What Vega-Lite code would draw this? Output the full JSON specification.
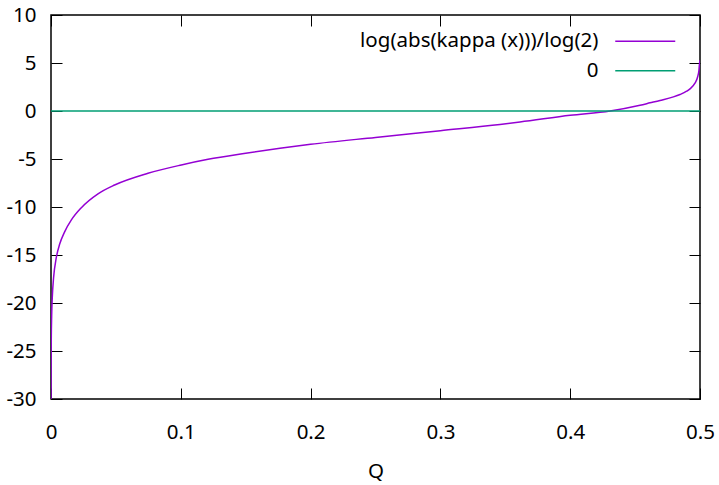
{
  "$schema": "https://vega.github.io/schema/vega-lite/v6.json",
  "width": 649,
  "height": 384,
  "autosize": {"type": "none"},
  "padding": {"left": 51, "top": 15, "right": 19, "bottom": 86},
  "background": "#ffffff",
  "config": {
    "font": "Noto Sans",
    "view": {"stroke": "#000000", "strokeWidth": 1.5},
    "axis": {
      "grid": false,
      "domain": false,
      "tickColor": "#000000",
      "tickSize": -11,
      "tickWidth": 1,
      "labelFont": "Noto Sans",
      "labelFontSize": 20.5,
      "labelColor": "#000000",
      "titleFont": "Noto Sans",
      "titleFontSize": 20.5,
      "titleFontWeight": "normal",
      "titleColor": "#000000"
    },
    "legend": {
      "orient": "none",
      "legendX": 584,
      "legendY": 16,
      "title": null,
      "symbolType": "M-10,0H10",
      "symbolSize": 36,
      "symbolStrokeWidth": 1.5,
      "symbolFillColor": "transparent",
      "labelAlign": "right",
      "labelOffset": -57,
      "labelLimit": 0,
      "labelFont": "Noto Sans",
      "labelFontSize": 20.5,
      "labelColor": "#000000",
      "rowPadding": 8.5,
      "padding": 0
    }
  },
  "datasets": {
    "curve": [
      {"Q": 0.00002, "v": -30.6, "s": "log(abs(kappa (x)))/log(2)"},
      {"Q": 0.00005, "v": -28.0, "s": "log(abs(kappa (x)))/log(2)"},
      {"Q": 0.0001, "v": -26.0, "s": "log(abs(kappa (x)))/log(2)"},
      {"Q": 0.0002, "v": -24.0, "s": "log(abs(kappa (x)))/log(2)"},
      {"Q": 0.0005, "v": -21.4, "s": "log(abs(kappa (x)))/log(2)"},
      {"Q": 0.001, "v": -19.4, "s": "log(abs(kappa (x)))/log(2)"},
      {"Q": 0.002, "v": -17.35, "s": "log(abs(kappa (x)))/log(2)"},
      {"Q": 0.0041, "v": -15.26, "s": "log(abs(kappa (x)))/log(2)"},
      {"Q": 0.0067, "v": -13.86, "s": "log(abs(kappa (x)))/log(2)"},
      {"Q": 0.0105, "v": -12.59, "s": "log(abs(kappa (x)))/log(2)"},
      {"Q": 0.0157, "v": -11.35, "s": "log(abs(kappa (x)))/log(2)"},
      {"Q": 0.0234, "v": -10.07, "s": "log(abs(kappa (x)))/log(2)"},
      {"Q": 0.0362, "v": -8.63, "s": "log(abs(kappa (x)))/log(2)"},
      {"Q": 0.049, "v": -7.71, "s": "log(abs(kappa (x)))/log(2)"},
      {"Q": 0.0747, "v": -6.49, "s": "log(abs(kappa (x)))/log(2)"},
      {"Q": 0.1004, "v": -5.62, "s": "log(abs(kappa (x)))/log(2)"},
      {"Q": 0.121, "v": -5.03, "s": "log(abs(kappa (x)))/log(2)"},
      {"Q": 0.15, "v": -4.4, "s": "log(abs(kappa (x)))/log(2)"},
      {"Q": 0.1764, "v": -3.88, "s": "log(abs(kappa (x)))/log(2)"},
      {"Q": 0.2, "v": -3.47, "s": "log(abs(kappa (x)))/log(2)"},
      {"Q": 0.25, "v": -2.75, "s": "log(abs(kappa (x)))/log(2)"},
      {"Q": 0.3, "v": -2.05, "s": "log(abs(kappa (x)))/log(2)"},
      {"Q": 0.3459, "v": -1.4, "s": "log(abs(kappa (x)))/log(2)"},
      {"Q": 0.3613, "v": -1.15, "s": "log(abs(kappa (x)))/log(2)"},
      {"Q": 0.4, "v": -0.45, "s": "log(abs(kappa (x)))/log(2)"},
      {"Q": 0.4307, "v": 0.0, "s": "log(abs(kappa (x)))/log(2)"},
      {"Q": 0.4538, "v": 0.6, "s": "log(abs(kappa (x)))/log(2)"},
      {"Q": 0.4615, "v": 0.85, "s": "log(abs(kappa (x)))/log(2)"},
      {"Q": 0.4692, "v": 1.1, "s": "log(abs(kappa (x)))/log(2)"},
      {"Q": 0.4795, "v": 1.47, "s": "log(abs(kappa (x)))/log(2)"},
      {"Q": 0.4846, "v": 1.72, "s": "log(abs(kappa (x)))/log(2)"},
      {"Q": 0.4897, "v": 2.06, "s": "log(abs(kappa (x)))/log(2)"},
      {"Q": 0.4923, "v": 2.31, "s": "log(abs(kappa (x)))/log(2)"},
      {"Q": 0.4961, "v": 2.9, "s": "log(abs(kappa (x)))/log(2)"},
      {"Q": 0.4982, "v": 3.57, "s": "log(abs(kappa (x)))/log(2)"},
      {"Q": 0.4992, "v": 4.27, "s": "log(abs(kappa (x)))/log(2)"},
      {"Q": 0.4996, "v": 4.9, "s": "log(abs(kappa (x)))/log(2)"},
      {"Q": 0.5, "v": 5.3, "s": "log(abs(kappa (x)))/log(2)"}
    ],
    "zero": [
      {"Q": 0, "v": 0, "s": "0"},
      {"Q": 0.5, "v": 0, "s": "0"}
    ]
  },
  "layer": [
    {
      "data": {"name": "curve"},
      "mark": {"type": "line", "strokeWidth": 1.5, "clip": true, "interpolate": "monotone"},
      "encoding": {
        "x": {
          "field": "Q", "type": "quantitative",
          "scale": {"domain": [0, 0.5], "nice": false, "zero": false},
          "axis": {"orient": "bottom", "values": [0, 0.1, 0.2, 0.3, 0.4, 0.5], "labelExpr": "'' + datum.value", "labelPadding": 34, "title": "Q", "titlePadding": 19, "labelFlush": false}
        },
        "y": {
          "field": "v", "type": "quantitative",
          "scale": {"domain": [-30, 10], "nice": false, "zero": false},
          "axis": {"orient": "left", "values": [-30, -25, -20, -15, -10, -5, 0, 5, 10], "labelExpr": "'' + datum.value", "labelPadding": 26, "title": null}
        },
        "color": {
          "field": "s", "type": "nominal",
          "scale": {"domain": ["log(abs(kappa (x)))/log(2)", "0"], "range": ["#9400d3", "#009e73"]}
        }
      }
    },
    {
      "data": {"name": "zero"},
      "mark": {"type": "line", "strokeWidth": 1.5, "clip": true},
      "encoding": {
        "x": {
          "field": "Q", "type": "quantitative",
          "axis": {"orient": "top", "values": [0, 0.1, 0.2, 0.3, 0.4, 0.5], "labels": false, "title": null}
        },
        "y": {
          "field": "v", "type": "quantitative",
          "axis": {"orient": "right", "values": [-30, -25, -20, -15, -10, -5, 0, 5, 10], "labels": false, "title": null}
        },
        "color": {"field": "s", "type": "nominal"}
      }
    }
  ],
  "resolve": {"axis": {"x": "independent", "y": "independent"}}
}
